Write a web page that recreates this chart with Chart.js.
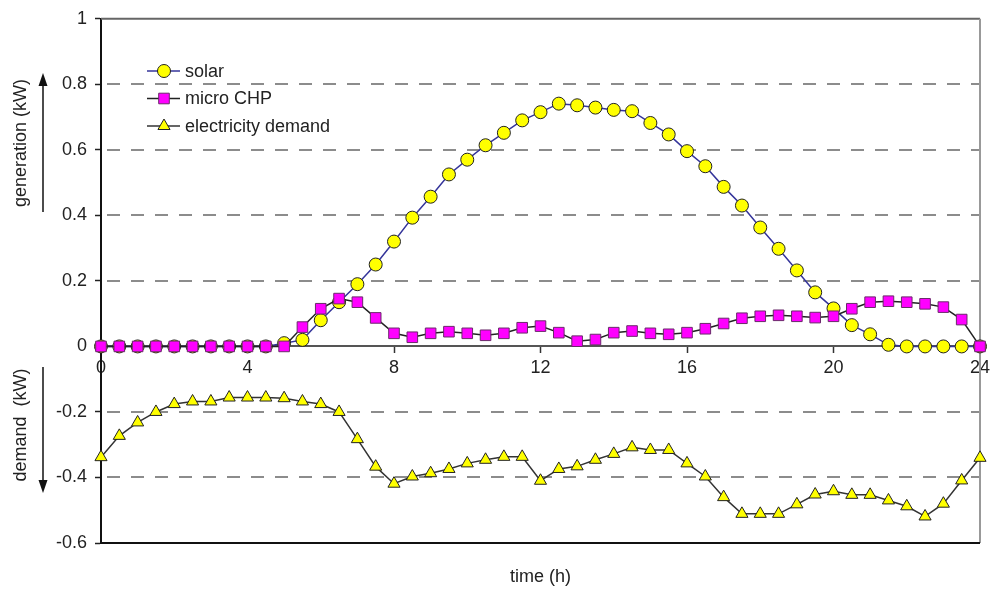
<!DOCTYPE html>
<html>
<head>
<meta charset="utf-8">
<script src="https://cdn.jsdelivr.net/npm/chart.js@4.4.1/dist/chart.umd.min.js"></script>
<style>
  html, body { margin: 0; padding: 0; background: #fff; }
  #wrap { width: 992px; height: 590px; }
</style>
</head>
<body>
<div id="wrap"><canvas id="myChart" width="992" height="590"></canvas></div>
<script>
// half-hourly profile over one day
const hours = [0, 0.5, 1, 1.5, 2, 2.5, 3, 3.5, 4, 4.5, 5, 5.5, 6, 6.5, 7, 7.5, 8, 8.5, 9, 9.5,
  10, 10.5, 11, 11.5, 12, 12.5, 13, 13.5, 14, 14.5, 15, 15.5, 16, 16.5, 17, 17.5, 18, 18.5, 19, 19.5,
  20, 20.5, 21, 21.5, 22, 22.5, 23, 23.5, 24];

const solar = [0, 0, 0, 0, 0, 0, 0, 0, 0, 0, 0.01, 0.02, 0.08, 0.135, 0.19, 0.25, 0.32, 0.393, 0.457, 0.525,
  0.57, 0.614, 0.652, 0.69, 0.715, 0.741, 0.736, 0.729, 0.722, 0.718, 0.682, 0.647, 0.596, 0.55, 0.487, 0.43, 0.363, 0.298, 0.232, 0.165,
  0.116, 0.065, 0.037, 0.005, 0, 0, 0, 0, 0];

const microChp = [0, 0, 0, 0, 0, 0, 0, 0, 0, 0, 0, 0.059, 0.115, 0.146, 0.135, 0.087, 0.04, 0.028, 0.04, 0.045,
  0.04, 0.034, 0.04, 0.057, 0.062, 0.042, 0.016, 0.021, 0.042, 0.047, 0.04, 0.037, 0.042, 0.054, 0.07, 0.086, 0.092, 0.095, 0.092, 0.088,
  0.092, 0.115, 0.135, 0.138, 0.135, 0.13, 0.12, 0.082, 0];

const demand = [-0.338, -0.273, -0.232, -0.2, -0.176, -0.168, -0.168, -0.156, -0.156, -0.156, -0.158, -0.168, -0.176, -0.2, -0.283, -0.367, -0.419, -0.397, -0.387, -0.374,
  -0.357, -0.346, -0.337, -0.337, -0.41, -0.374, -0.366, -0.346, -0.328, -0.308, -0.316, -0.316, -0.357, -0.397, -0.46, -0.511, -0.511, -0.511, -0.482, -0.452,
  -0.442, -0.453, -0.453, -0.47, -0.488, -0.519, -0.48, -0.409, -0.34];

const xTicks = [0, 4, 8, 12, 16, 20, 24];
const yTicks = [-0.6, -0.4, -0.2, 0, 0.2, 0.4, 0.6, 0.8, 1];
const seriesNames = ["solar", "micro CHP", "electricity demand"];

const FONT = "'Liberation Sans', Arial, Helvetica, sans-serif";
Chart.defaults.font.family = FONT;
Chart.defaults.font.size = 18;
Chart.defaults.color = "#222";

function pts(vals) {
  return vals.map((v, i) => ({ x: hours[i], y: v }));
}

// gridlines, frame, axis titles and the legend
const decor = {
  id: "decor",
  beforeDatasetsDraw(chart) {
    const { ctx, chartArea: a, scales: { y } } = chart;
    ctx.save();
    ctx.strokeStyle = "#8c8c8c";
    ctx.lineWidth = 2;
    ctx.setLineDash([13, 11]);
    ctx.lineDashOffset = 18;
    yTicks.forEach(v => {
      if (v === 0 || v === yTicks[0] || v === yTicks[yTicks.length - 1]) return;
      const py = Math.round(y.getPixelForValue(v));
      ctx.beginPath();
      ctx.moveTo(a.left, py);
      ctx.lineTo(a.right, py);
      ctx.stroke();
    });
    ctx.setLineDash([]);
    ctx.lineWidth = 2;
    ctx.strokeStyle = "#666";
    ctx.beginPath();
    ctx.moveTo(a.left, a.top);
    ctx.lineTo(a.right, a.top);
    ctx.stroke();
    ctx.strokeStyle = "#999";
    ctx.beginPath();
    ctx.moveTo(a.right, a.top);
    ctx.lineTo(a.right, a.bottom);
    ctx.stroke();
    ctx.strokeStyle = "#111";
    ctx.beginPath();
    ctx.moveTo(a.left, a.bottom);
    ctx.lineTo(a.right, a.bottom);
    ctx.stroke();
    ctx.restore();
  },
  afterDraw(chart) {
    const { ctx, chartArea: a } = chart;
    ctx.save();
    ctx.fillStyle = "#222";
    ctx.font = "18px " + FONT;
    ctx.textAlign = "center";
    ctx.textBaseline = "middle";
    ctx.fillText("time (h)", (a.left + a.right) / 2, 577);

    // rotated titles for the two halves of the y axis
    const vText = (txt, cx, cy) => {
      ctx.save();
      ctx.translate(cx, cy);
      ctx.rotate(-Math.PI / 2);
      ctx.fillText(txt, 0, 0);
      ctx.restore();
    };
    vText("generation (kW)", 21, 143);
    vText("demand  (kW)", 21, 425);

    const arrow = (x, y1, y2) => {
      const dir = Math.sign(y2 - y1);
      ctx.strokeStyle = "#111";
      ctx.lineWidth = 1.5;
      ctx.beginPath();
      ctx.moveTo(x, y1);
      ctx.lineTo(x, y2 - dir * 10);
      ctx.stroke();
      ctx.fillStyle = "#111";
      ctx.beginPath();
      ctx.moveTo(x, y2);
      ctx.lineTo(x - 4.5, y2 - dir * 13);
      ctx.lineTo(x + 4.5, y2 - dir * 13);
      ctx.closePath();
      ctx.fill();
    };
    arrow(43, 212, 73);
    arrow(43, 367, 493);

    // legend: short line with the marker in the middle
    ctx.font = "18px " + FONT;
    ctx.textAlign = "left";
    const order = [1, 0, 2];
    order.forEach((di, row) => {
      const ds = chart.data.datasets[di];
      const ry = 71 + row * 27.5;
      ctx.strokeStyle = ds.borderColor;
      ctx.lineWidth = ds.borderWidth;
      ctx.beginPath();
      ctx.moveTo(147, ry);
      ctx.lineTo(180, ry);
      ctx.stroke();
      ctx.fillStyle = ds.pointBackgroundColor;
      ctx.strokeStyle = ds.pointBorderColor;
      ctx.lineWidth = ds.pointBorderWidth;
      Chart.helpers.drawPoint(ctx, {
        pointStyle: ds.pointStyle, radius: ds.pointRadius, rotation: 0, borderWidth: ds.pointBorderWidth
      }, 164, ry);
      ctx.fillStyle = "#222";
      ctx.fillText(seriesNames[row], 185, ry + 1);
    });
    ctx.restore();
  }
};

new Chart(document.getElementById("myChart"), {
  type: "line",
  data: {
    datasets: [
      {
        label: seriesNames[1],
        data: pts(microChp),
        order: 0,
        borderColor: "#222",
        borderWidth: 1.5,
        pointStyle: "rect",
        pointRadius: 7.5,
        pointBackgroundColor: "#ff00ff",
        pointBorderColor: "#6a2a6a",
        pointBorderWidth: 1,
        clip: false
      },
      {
        label: seriesNames[0],
        data: pts(solar),
        order: 1,
        borderColor: "#34349a",
        borderWidth: 1.5,
        pointStyle: "circle",
        pointRadius: 6.5,
        pointBackgroundColor: "#ffff00",
        pointBorderColor: "#222",
        pointBorderWidth: 1,
        clip: false
      },
      {
        label: seriesNames[2],
        data: pts(demand),
        order: 2,
        borderColor: "#333",
        borderWidth: 1.5,
        pointStyle: "triangle",
        pointRadius: 7,
        pointBackgroundColor: "#ffff00",
        pointBorderColor: "#222",
        pointBorderWidth: 1,
        clip: false
      }
    ]
  },
  options: {
    responsive: false,
    animation: false,
    layout: { padding: { top: 18, right: 12, bottom: 47, left: 0 } },
    plugins: { legend: { display: false }, tooltip: { enabled: false } },
    scales: {
      x: {
        type: "linear",
        position: { y: 0 },
        min: 0,
        max: 24,
        afterBuildTicks: s => { s.ticks = xTicks.map(v => ({ value: v })); },
        afterFit: s => { s.paddingLeft = 0; s.paddingRight = 0; },
        grid: { drawOnChartArea: false, drawTicks: true, tickLength: 6, tickColor: "#333", tickWidth: 1.5 },
        border: { display: true, color: "#555", width: 2 },
        ticks: { padding: 5, maxRotation: 0, autoSkip: false, color: "#222", font: { size: 18 } }
      },
      y: {
        min: -0.6,
        max: 1,
        afterBuildTicks: s => { s.ticks = yTicks.map(v => ({ value: v })); },
        afterFit: s => { s.width = 101; },
        grid: { drawOnChartArea: false, drawTicks: true, tickLength: 6, tickColor: "#222", tickWidth: 1.5 },
        border: { display: true, color: "#111", width: 2 },
        ticks: { padding: 8, color: "#222", font: { size: 18 }, callback: v => String(v) }
      }
    }
  },
  plugins: [decor]
});
</script>
</body>
</html>
